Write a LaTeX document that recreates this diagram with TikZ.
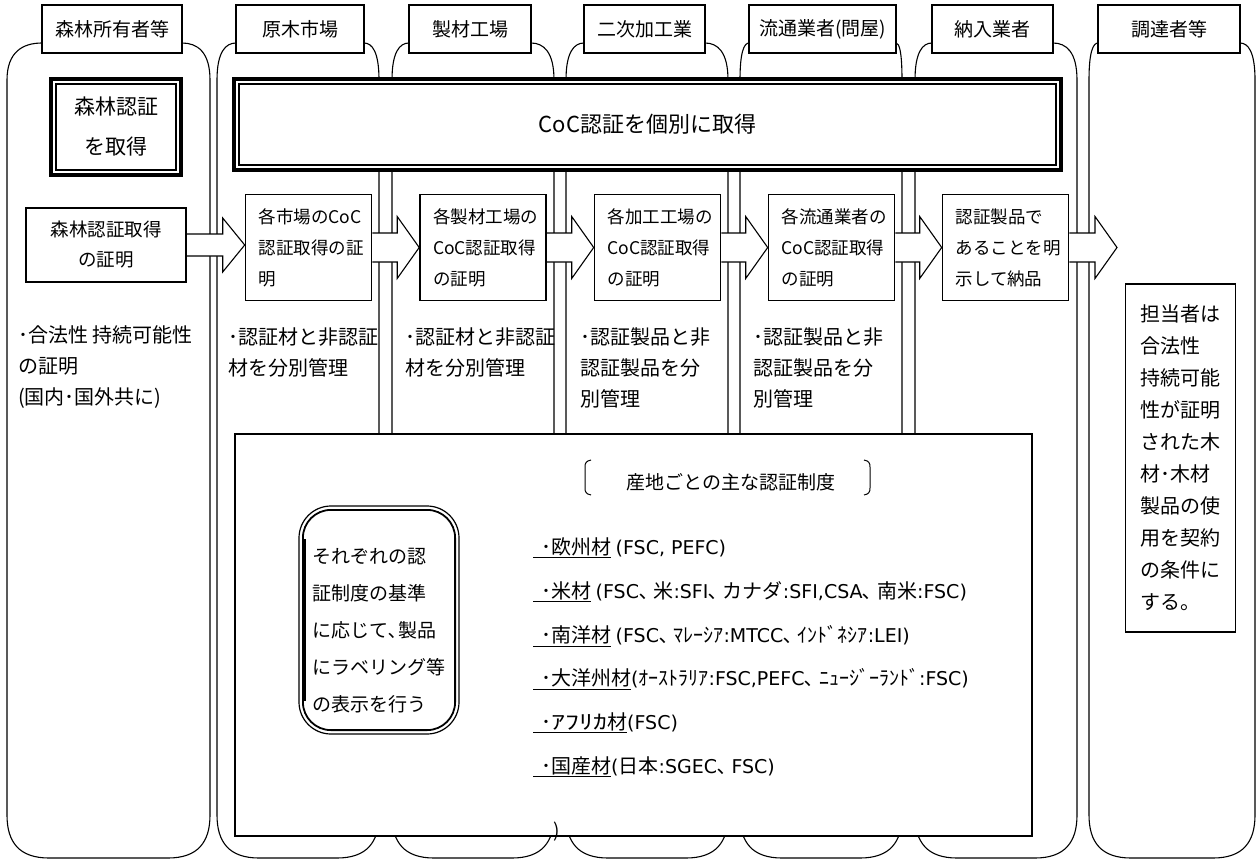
\documentclass[tikz,border=0pt]{standalone}
\usepackage{fontspec}
\usepackage{graphicx}
\setmainfont{Noto Sans CJK JP}
\newfontfamily\latf{DejaVu Sans}
\usetikzlibrary{calc}
\pgfdeclarelayer{bg}
\pgfdeclarelayer{mid}
\pgfsetlayers{bg,mid,main}
\newcommand{\myfs}[2]{\fontsize{#1}{#2}\selectfont}
\newcommand{\lw}[1]{{\latf\fontsize{19}{22}\selectfont #1}}
\newcommand{\lanepath}[4]{%
  \draw[laneline] (#3,43) .. controls ({#3+0.55*(#1-#3)},43) and (#1,52) .. (#1,80)
    -- (#1,815) .. controls (#1,842) and ({#1+12},858) .. ({#1+42},858)
    -- ({#2-42},858) .. controls ({#2-12},858) and (#2,842) .. (#2,815)
    -- (#2,80) .. controls (#2,52) and ({#4+0.55*(#2-#4)},43) .. (#4,43);}
\newcommand{\blockarrow}[5]{%
  \coordinate (s) at (#1.east |- #2);
  \filldraw[arrowline] ([yshift=#3pt]s) -- ([xshift=-#5pt,yshift=#3pt]#2)
    -- ([xshift=-#5pt,yshift=#4pt]#2) -- (#2)
    -- ([xshift=-#5pt,yshift=-#4pt]#2) -- ([xshift=-#5pt,yshift=-#3pt]#2)
    -- ([yshift=-#3pt]s);}
\begin{document}
\begin{tikzpicture}[x=1pt,y=-1pt,
  laneline/.style={line width=1.1pt},
  arrowline/.style={line width=1.1pt, fill=white, line join=miter},
  hdr/.style={draw, line width=1.5pt, fill=white, minimum height=48, inner sep=0pt, font=\myfs{19}{22}},
  fbox/.style={draw, line width=1.6pt, fill=white, inner sep=0pt, font=\myfs{17.5}{31}},
  ltxt/.style={anchor=west, align=left, inner sep=0pt, font=\myfs{20}{31}},
  item/.style={anchor=west, inner sep=0pt, font=\myfs{20}{22}}]
\useasboundingbox (0,0) rectangle (1257,862);

% lanes
\begin{pgfonlayer}{bg}
\lanepath{7}{210}{42}{182}
\lanepath{217}{379}{236}{364}
\lanepath{392}{554}{409}{531}
\lanepath{566}{728}{584}{705}
\lanepath{740}{902}{749}{896}
\lanepath{915}{1077}{932}{1053}
\lanepath{1089}{1255}{1098}{1240}
\end{pgfonlayer}

% headers
\node[hdr, minimum width=140] (h1) at (112,29) {森林所有者等};
\node[hdr, minimum width=128] (h2) at (300,29) {原木市場};
\node[hdr, minimum width=122] (h3) at (470,29) {製材工場};
\node[hdr, minimum width=121] (h4) at (644.5,29) {二次加工業};
\node[hdr, minimum width=147] (h5) at (822.5,29) {流通業者(問屋)};
\node[hdr, minimum width=121] (h6) at (992.5,29) {納入業者};
\node[hdr, minimum width=142] (h7) at (1169,29) {調達者等};

% double boxes
\node[draw, line width=4pt, fill=white, minimum width=827, minimum height=91, inner sep=0pt, font=\myfs{22}{26}] (coc) at (647.5,124.5) {CoC認証を個別に取得};
\draw[line width=1.3pt] ([shift={(7,7)}]coc.north west) rectangle ([shift={(-7,-7)}]coc.south east);
\node[draw, line width=4pt, fill=white, minimum width=130, minimum height=96, inner sep=0pt, align=center, font=\myfs{21}{40}] (fc) at (116,127) {森林認証\\を取得};
\draw[line width=1.3pt] ([shift={(7,7)}]fc.north west) rectangle ([shift={(-7,-7)}]fc.south east);

% flow boxes
\node[fbox, minimum width=160, minimum height=74, align=center, font=\myfs{18.5}{30}] (b1) at (106,245) {森林認証取得\\の証明};
\node[fbox, minimum width=126, minimum height=106, text width=100, align=left] (b2) at (308.5,247.5) {各市場のCoC\\認証取得の証\\明};
\node[fbox, minimum width=126, minimum height=106, text width=100, align=left] (b3) at (483,247.5) {各製材工場の\\CoC認証取得\\の証明};
\node[fbox, minimum width=126, minimum height=106, text width=100, align=left] (b4) at (657.5,247.5) {各加工工場の\\CoC認証取得\\の証明};
\node[fbox, minimum width=126, minimum height=106, text width=100, align=left] (b5) at (831.5,247.5) {各流通業者の\\CoC認証取得\\の証明};
\node[fbox, minimum width=126, minimum height=106, text width=100, align=left] (b6) at (1005.5,247.5) {認証製品で\\あることを明\\示して納品};
\coordinate (t1) at (b2.west |- b1.east);
\coordinate (t7) at (1117,247.5);

\begin{pgfonlayer}{mid}
\blockarrow{b1}{t1}{11}{27}{22}
\blockarrow{b2}{b3.west}{14.5}{31}{22}
\blockarrow{b3}{b4.west}{14.5}{31}{22}
\blockarrow{b4}{b5.west}{14.5}{31}{22}
\blockarrow{b5}{b6.west}{14.5}{31}{22}
\blockarrow{b6}{t7}{14.5}{31}{22}
\end{pgfonlayer}

% lane texts
\node[ltxt] (l1) at (18,367) {･合法性 持続可能性\\の証明\\(国内･国外共に)};
\node[ltxt] (l2) at (228,352) {･認証材と非認証\\材を分別管理};
\node[ltxt] (l3) at (405,352) {･認証材と非認証\\材を分別管理};
\node[ltxt] (l4) at (580,368) {･認証製品と非\\認証製品を分\\別管理};
\node[ltxt] (l5) at (753,368) {･認証製品と非\\認証製品を分\\別管理};

% buyer box
\node[fbox, minimum width=110, minimum height=348, align=left, font=\myfs{20}{32}] (p7) at (1180.5,458) {担当者は\\合法性\\持続可能\\性が証明\\された木\\材･木材\\製品の使\\用を契約\\の条件に\\する。};

% bottom box
\node[draw, line width=1.8pt, fill=white, minimum width=797, minimum height=402, inner sep=0pt] (bot) at (633.5,635) {};
\node[inner sep=0pt, font=\myfs{19}{22}] (head) at (731,482) {産地ごとの主な認証制度};
\draw[line width=1pt] (591,460) .. controls (586,461) and (585,463) .. (585,467) -- (585,488) .. controls (585,492) and (586,494) .. (591,495);
\draw[line width=1pt] (864,460) .. controls (869,461) and (870,463) .. (870,467) -- (870,488) .. controls (870,492) and (869,494) .. (864,495);

\node[draw, line width=1.2pt, rounded corners=32pt, fill=white, minimum width=160, minimum height=228, inner sep=0pt] (rb) at (379,620) {};
\draw[line width=1.8pt, rounded corners=28pt] ([shift={(4.5,4.5)}]rb.north west) rectangle ([shift={(-4.5,-4.5)}]rb.south east);
\draw[line width=3.5pt] ([shift={(6,34)}]rb.north west) -- ([shift={(6,-34)}]rb.south west);
\node[inner sep=0pt, align=left, font=\myfs{19}{37}] (rbt) at (379,631) {それぞれの認\\証制度の基準\\に応じて､製品\\にラベリング等\\の表示を行う};

\node[item] (i1) at (533,548) {\underline{\hspace{8pt}･欧州材} \lw{(FSC, PEFC)}};
\node[item] (i2) at (533,592) {\underline{\hspace{8pt}･米材} \lw{(FSC}､ 米\lw{:SFI}､ カナダ\lw{:SFI,CSA}､ 南米\lw{:FSC)}};
\node[item] (i3) at (533,636) {\underline{\hspace{8pt}･南洋材} \lw{(FSC}､ ﾏﾚｰｼｱ\lw{:MTCC}､ ｲﾝﾄﾞﾈｼｱ\lw{:LEI)}};
\node[item] (i4) at (533,679) {\underline{\hspace{8pt}･大洋州材}\lw{(}ｵｰｽﾄﾗﾘｱ\lw{:FSC,PEFC}､ ﾆｭｰｼﾞｰﾗﾝﾄﾞ\lw{:FSC)}};
\node[item] (i5) at (533,723) {\underline{\hspace{8pt}･\scalebox{1.4}[1]{ｱﾌﾘｶ}材}\lw{(FSC)}};
\node[item] (i6) at (533,767) {\underline{\hspace{8pt}･国産材}\lw{(}日本\lw{:SGEC}､ \lw{FSC)}};
\node[inner sep=0pt, font=\myfs{19}{22}] (stray) at (557,832) {)};
\end{tikzpicture}
\end{document}
